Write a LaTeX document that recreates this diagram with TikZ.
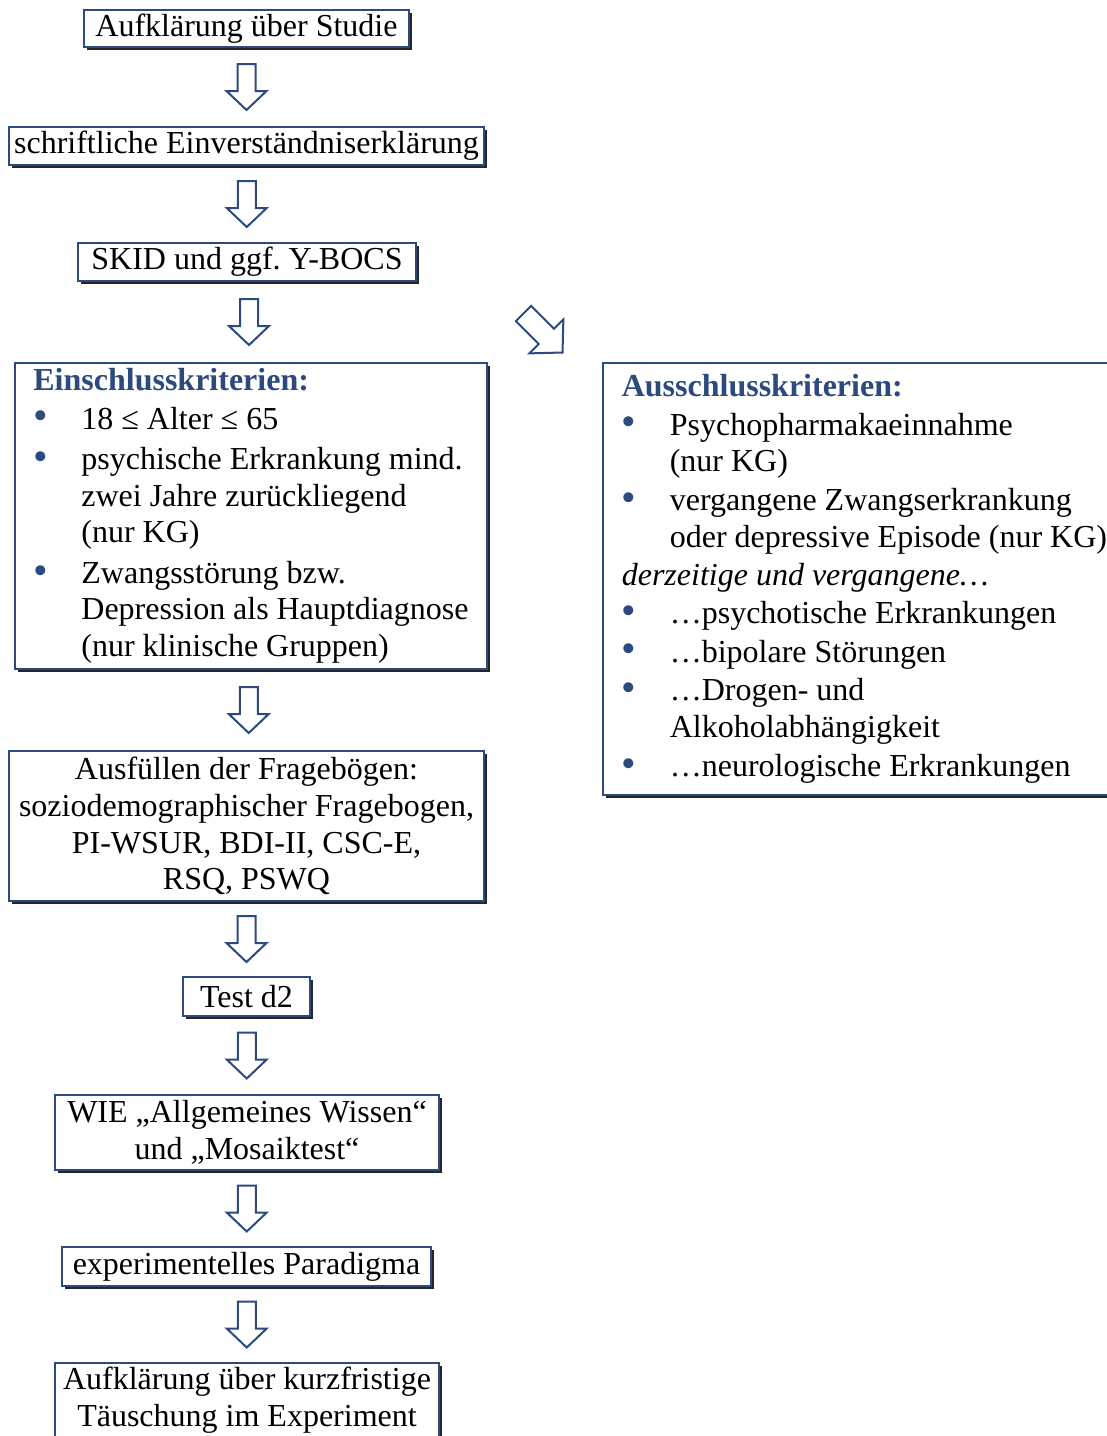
\documentclass[tikz,border=0pt]{standalone}
\usepackage{fontspec}
\setmainfont{Liberation Serif}
\usetikzlibrary{positioning,calc,shadows}
\definecolor{FrameBlue}{RGB}{44,74,125}
\frenchspacing
\tikzset{
  sbox/.style={draw=FrameBlue,fill=white,line width=0.75pt,inner sep=0pt,
               align=center,font=\fontsize{12}{13.75}\selectfont,
               drop shadow={shadow xshift=1.1pt,shadow yshift=-1.1pt,
                            fill=black!85,opacity=1}},
  lbox/.style={sbox,align=flush left,inner xsep=6.9pt},
  arrline/.style={draw=FrameBlue,fill=white,line width=0.75pt,line join=miter},
  downblock/.pic={
    \path[arrline] (-9,-23) -- (9,-23) -- (9,4) -- (20,4) -- (0,23)
                   -- (-20,4) -- (-9,4) -- cycle;
  },
}
\newcommand{\itm}{\makebox[18pt][l]{\raisebox{-0.3pt}{\scalebox{1.3}{\textcolor{FrameBlue}{\textbullet}}}}}
\newcommand{\cont}{\hspace*{18pt}}
\newcommand{\hd}[1]{{\bfseries\color{FrameBlue}#1}}

\begin{document}
\begin{tikzpicture}[x=0.375pt,y=-0.375pt]
  \useasboundingbox (0,0) rectangle (1107,1436);
  \clip (0,0) rectangle (1107,1436);

  % main column
  \node[sbox,minimum width=121.9pt,minimum height=13.9pt] (aufkl) at (246.5,28.5)
    {Aufklärung über Studie};
  \node[sbox,minimum width=178.1pt,minimum height=14.25pt] (einv) at (246.5,146)
    {schriftliche Einverständniserklärung};
  \node[sbox,minimum width=126.75pt,minimum height=14.25pt] (skid) at (247,262)
    {SKID und ggf. Y-BOCS};
  \node[lbox,text width=163.2pt,minimum height=114.75pt] (ein) at (251,516)
    {\hd{Einschlusskriterien:}\\[0.6pt]
     \itm 18 ≤ Alter ≤ 65\\[1.4pt]
     \itm psychische Erkrankung mind.\\
     \cont zwei Jahre zurückliegend\\
     \cont (nur KG)\\[1.4pt]
     \itm Zwangsstörung bzw.\\
     \cont Depression als Hauptdiagnose\\
     \cont (nur klinische Gruppen)};
  \node[sbox,minimum width=178.1pt,minimum height=56.25pt] (frag) at (246.5,826)
    {Ausfüllen der Fragebögen:\\
     soziodemographischer Fragebogen,\\
     PI-WSUR, BDI-II, CSC-E,\\
     RSQ, PSWQ};
  \node[sbox,minimum width=47.6pt,minimum height=14.6pt] (dtest) at (246.5,996.5)
    {Test d2};
  \node[sbox,minimum width=144pt,minimum height=28.1pt] (wie) at (247,1132.5)
    {WIE „Allgemeines Wissen“\\ und „Mosaiktest“};
  \node[sbox,minimum width=138.4pt,minimum height=14.6pt] (para) at (246.5,1266.5)
    {experimentelles Paradigma};
  \node[sbox,minimum width=144pt,minimum height=28.1pt] (debrief) at (247,1400.5)
    {Aufklärung über kurzfristige\\ Täuschung im Experiment};

  % exclusion criteria
  \node[lbox,text width=185pt,minimum height=162pt] (aus) at (868.5,579)
    {\hd{Ausschlusskriterien:}\\[0.8pt]
     \itm Psychopharmakaeinnahme\\
     \cont (nur KG)\\[0.8pt]
     \itm vergangene Zwangserkrankung\\
     \cont oder depressive Episode (nur KG)\\[0.5pt]
     \textit{derzeitige und vergangene…}\\[0.5pt]
     \itm …psychotische Erkrankungen\\[0.8pt]
     \itm …bipolare Störungen\\[0.8pt]
     \itm …Drogen- und\\
     \cont Alkoholabhängigkeit\\[1pt]
     \itm …neurologische Erkrankungen\\[7pt]};

  % block arrows
  \path ($(aufkl.south)!0.5!(einv.north)$) pic {downblock};
  \path ($(einv.south)!0.5!(skid.north)$) pic {downblock};
  \path ($(skid.south)!0.5!(ein.north)$) pic {downblock};
  \path ($(ein.south)!0.5!(frag.north)$) pic {downblock};
  \path ($(frag.south)!0.5!(dtest.north)$) pic {downblock};
  \path ($(dtest.south)!0.5!(wie.north)$) pic {downblock};
  \path ($(wie.south)!0.5!(para.north)$) pic {downblock};
  \path ($(para.south)!0.5!(debrief.north)$) pic {downblock};
  \coordinate (diag) at (543,333);
  \path (diag) pic[rotate=45,scale=1.2] {downblock};
\end{tikzpicture}
\end{document}
